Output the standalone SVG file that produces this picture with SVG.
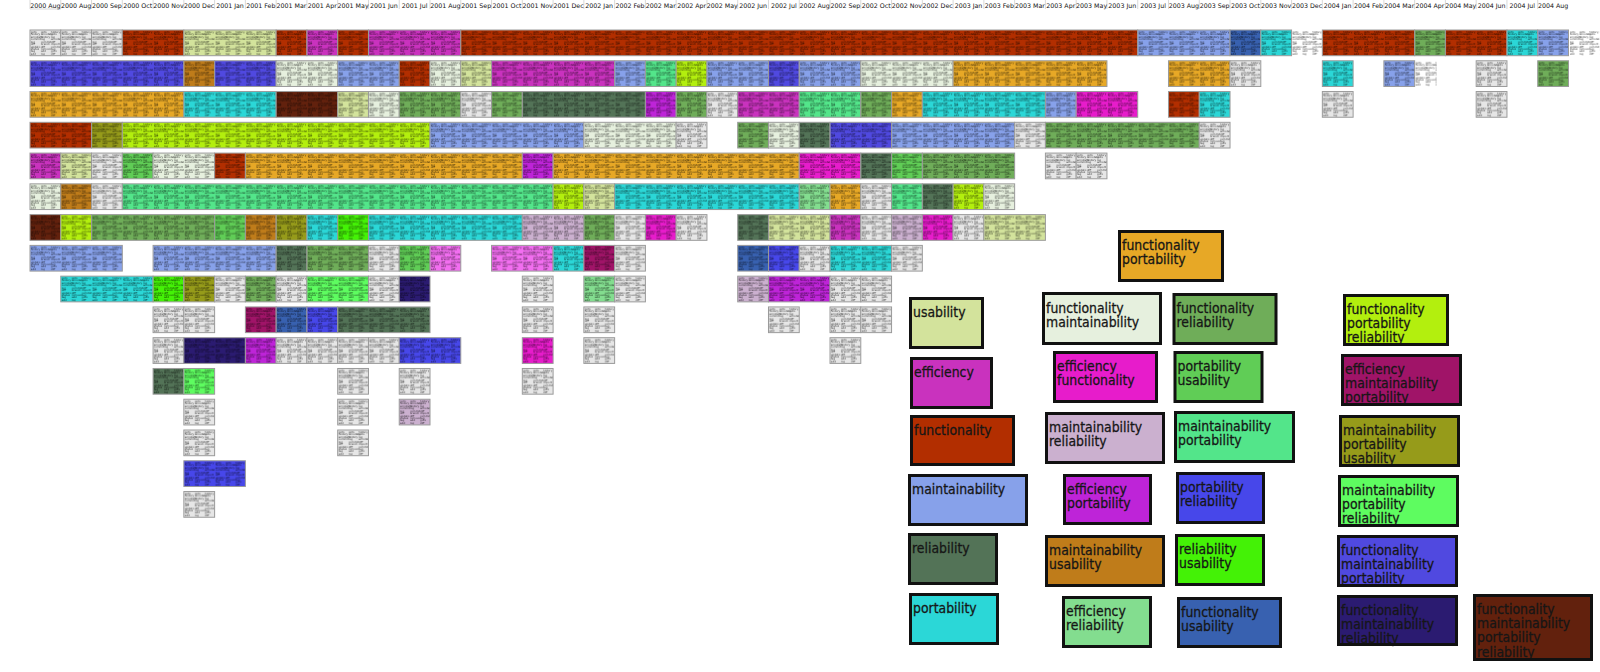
<svg xmlns="http://www.w3.org/2000/svg" xmlns:xlink="http://www.w3.org/1999/xlink" width="1600" height="672" viewBox="0 0 1600 672">
<style>
.hd{font-family:"DejaVu Sans",sans-serif;font-size:6.3px;fill:#111;text-anchor:middle}
.tk{stroke:#cfcfcf;stroke-width:0.8}
.tt{font-family:"DejaVu Sans",sans-serif;font-size:2.7px;fill:#000;fill-opacity:.8}
.o{fill:url(#tx);stroke:#9a9a9a;stroke-width:1}
.ot{fill:url(#tx);stroke:none}
.bd{fill:none;stroke:#111;stroke-width:3}
.lt{font-family:"DejaVu Sans",sans-serif;font-size:14.5px;fill:#161616;stroke:#161616;stroke-width:0.3}
.G{fill:#e6e6e6}.U{fill:#d3e39c}.E{fill:#c932be}.F{fill:#b22e00}.M{fill:#87a1ea}.R{fill:#537357}.P{fill:#2bd7d7}
.FP{fill:#e7a826}.FM{fill:#e6f0de}.EF{fill:#e71ccb}.MR{fill:#cbb0cf}.EP{fill:#be24d8}.MU{fill:#bf7c1a}.ER{fill:#83dd8f}
.FR{fill:#6fad59}.PU{fill:#60cd56}.MP{fill:#53e58a}.PR{fill:#4747ea}.RU{fill:#44f206}.FU{fill:#3861b0}
.FPR{fill:#b3ef0e}.EMP{fill:#a01468}.MPU{fill:#969b1a}.MPR{fill:#5efc60}.FMP{fill:#5049e0}.FMR{fill:#2b1b71}.FMPR{fill:#62210d}.PK{fill:#f26ef0}
</style>
<defs>
<pattern id="tx" patternUnits="userSpaceOnUse" x="30" y="0" width="30.77" height="30.77">
<text class="tt" x="0.8" y="2.7">gets<tspan x="0.8" dy="2.45">history</tspan><tspan x="0.8" dy="2.45">annotate</tspan><tspan x="0.8" dy="2.45">commit</tspan><tspan x="0.8" dy="2.45">log</tspan><tspan x="0.8" dy="2.45">diff</tspan><tspan x="0.8" dy="2.45">update</tspan><tspan x="0.8" dy="2.45">status</tspan><tspan x="0.8" dy="2.45">tag</tspan><tspan x="0.8" dy="2.45">add</tspan></text>
<text class="tt" x="10.8" y="2.7">gets<tspan x="10.8" dy="2.45">annotate</tspan><tspan x="10.8" dy="2.45">history</tspan><tspan x="10.8" dy="2.45">log</tspan><tspan x="10.8" dy="2.45">commit</tspan><tspan x="10.8" dy="2.45">branch</tspan><tspan x="10.8" dy="2.45">diff</tspan><tspan x="10.8" dy="2.45">remove</tspan><tspan x="10.8" dy="2.45">add</tspan><tspan x="10.8" dy="2.45">log</tspan></text>
<text class="tt" x="20.8" y="2.7">history<tspan x="20.8" dy="2.45">gets</tspan><tspan x="20.8" dy="2.45">log</tspan><tspan x="20.8" dy="2.45">annotate</tspan><tspan x="20.8" dy="2.45">diff</tspan><tspan x="20.8" dy="2.45">import</tspan><tspan x="20.8" dy="2.45">commit</tspan><tspan x="20.8" dy="2.45">tag</tspan><tspan x="20.8" dy="2.45">gets</tspan><tspan x="20.8" dy="2.45">diff</tspan></text>
</pattern>
</defs>
<rect width="1600" height="672" fill="#fff"/>
<g id="header">
<g class="tk">
<line x1="30" y1="0" x2="30" y2="9"/><line x1="60.77" y1="0" x2="60.77" y2="9"/><line x1="91.54" y1="0" x2="91.54" y2="9"/><line x1="122.31" y1="0" x2="122.31" y2="9"/><line x1="153.08" y1="0" x2="153.08" y2="9"/><line x1="183.85" y1="0" x2="183.85" y2="9"/><line x1="214.62" y1="0" x2="214.62" y2="9"/><line x1="245.39" y1="0" x2="245.39" y2="9"/><line x1="276.16" y1="0" x2="276.16" y2="9"/><line x1="306.93" y1="0" x2="306.93" y2="9"/><line x1="337.7" y1="0" x2="337.7" y2="9"/><line x1="368.47" y1="0" x2="368.47" y2="9"/><line x1="399.24" y1="0" x2="399.24" y2="9"/><line x1="430.01" y1="0" x2="430.01" y2="9"/><line x1="460.78" y1="0" x2="460.78" y2="9"/><line x1="491.55" y1="0" x2="491.55" y2="9"/><line x1="522.32" y1="0" x2="522.32" y2="9"/><line x1="553.09" y1="0" x2="553.09" y2="9"/><line x1="583.86" y1="0" x2="583.86" y2="9"/><line x1="614.63" y1="0" x2="614.63" y2="9"/><line x1="645.4" y1="0" x2="645.4" y2="9"/><line x1="676.17" y1="0" x2="676.17" y2="9"/><line x1="706.94" y1="0" x2="706.94" y2="9"/><line x1="737.71" y1="0" x2="737.71" y2="9"/><line x1="768.48" y1="0" x2="768.48" y2="9"/><line x1="799.25" y1="0" x2="799.25" y2="9"/><line x1="830.02" y1="0" x2="830.02" y2="9"/><line x1="860.79" y1="0" x2="860.79" y2="9"/><line x1="891.56" y1="0" x2="891.56" y2="9"/><line x1="922.33" y1="0" x2="922.33" y2="9"/><line x1="953.1" y1="0" x2="953.1" y2="9"/><line x1="983.87" y1="0" x2="983.87" y2="9"/><line x1="1014.64" y1="0" x2="1014.64" y2="9"/><line x1="1045.41" y1="0" x2="1045.41" y2="9"/><line x1="1076.18" y1="0" x2="1076.18" y2="9"/><line x1="1106.95" y1="0" x2="1106.95" y2="9"/><line x1="1137.72" y1="0" x2="1137.72" y2="9"/><line x1="1168.49" y1="0" x2="1168.49" y2="9"/><line x1="1199.26" y1="0" x2="1199.26" y2="9"/><line x1="1230.03" y1="0" x2="1230.03" y2="9"/><line x1="1260.8" y1="0" x2="1260.8" y2="9"/><line x1="1291.57" y1="0" x2="1291.57" y2="9"/><line x1="1322.34" y1="0" x2="1322.34" y2="9"/><line x1="1353.11" y1="0" x2="1353.11" y2="9"/><line x1="1383.88" y1="0" x2="1383.88" y2="9"/><line x1="1414.65" y1="0" x2="1414.65" y2="9"/><line x1="1445.42" y1="0" x2="1445.42" y2="9"/><line x1="1476.19" y1="0" x2="1476.19" y2="9"/><line x1="1506.96" y1="0" x2="1506.96" y2="9"/><line x1="1537.73" y1="0" x2="1537.73" y2="9"/>
<line x1="30" y1="9" x2="60.77" y2="9"/>
</g>
<text class="hd" x="45.4" y="7.5">2000 Aug</text><text class="hd" x="76.2" y="7.5">2000 Aug</text><text class="hd" x="106.9" y="7.5">2000 Sep</text><text class="hd" x="137.7" y="7.5">2000 Oct</text><text class="hd" x="168.5" y="7.5">2000 Nov</text><text class="hd" x="199.2" y="7.5">2000 Dec</text><text class="hd" x="230" y="7.5">2001 Jan</text><text class="hd" x="260.8" y="7.5">2001 Feb</text><text class="hd" x="291.5" y="7.5">2001 Mar</text><text class="hd" x="322.3" y="7.5">2001 Apr</text><text class="hd" x="353.1" y="7.5">2001 May</text><text class="hd" x="383.9" y="7.5">2001 Jun</text><text class="hd" x="414.6" y="7.5">2001 Jul</text><text class="hd" x="445.4" y="7.5">2001 Aug</text><text class="hd" x="476.2" y="7.5">2001 Sep</text><text class="hd" x="506.9" y="7.5">2001 Oct</text><text class="hd" x="537.7" y="7.5">2001 Nov</text><text class="hd" x="568.5" y="7.5">2001 Dec</text><text class="hd" x="599.2" y="7.5">2002 Jan</text><text class="hd" x="630" y="7.5">2002 Feb</text><text class="hd" x="660.8" y="7.5">2002 Mar</text><text class="hd" x="691.6" y="7.5">2002 Apr</text><text class="hd" x="722.3" y="7.5">2002 May</text><text class="hd" x="753.1" y="7.5">2002 Jun</text><text class="hd" x="783.9" y="7.5">2002 Jul</text><text class="hd" x="814.6" y="7.5">2002 Aug</text><text class="hd" x="845.4" y="7.5">2002 Sep</text><text class="hd" x="876.2" y="7.5">2002 Oct</text><text class="hd" x="906.9" y="7.5">2002 Nov</text><text class="hd" x="937.7" y="7.5">2002 Dec</text><text class="hd" x="968.5" y="7.5">2003 Jan</text><text class="hd" x="999.3" y="7.5">2003 Feb</text><text class="hd" x="1030" y="7.5">2003 Mar</text><text class="hd" x="1060.8" y="7.5">2003 Apr</text><text class="hd" x="1091.6" y="7.5">2003 May</text><text class="hd" x="1122.3" y="7.5">2003 Jun</text><text class="hd" x="1153.1" y="7.5">2003 Jul</text><text class="hd" x="1183.9" y="7.5">2003 Aug</text><text class="hd" x="1214.6" y="7.5">2003 Sep</text><text class="hd" x="1245.4" y="7.5">2003 Oct</text><text class="hd" x="1276.2" y="7.5">2003 Nov</text><text class="hd" x="1307" y="7.5">2003 Dec</text><text class="hd" x="1337.7" y="7.5">2004 Jan</text><text class="hd" x="1368.5" y="7.5">2004 Feb</text><text class="hd" x="1399.3" y="7.5">2004 Mar</text><text class="hd" x="1430" y="7.5">2004 Apr</text><text class="hd" x="1460.8" y="7.5">2004 May</text><text class="hd" x="1491.6" y="7.5">2004 Jun</text><text class="hd" x="1522.3" y="7.5">2004 Jul</text><text class="hd" x="1553.1" y="7.5">2004 Aug</text>
</g>
<g id="row0" transform="translate(0 30)">
<g id="r0c0"><rect class="G" x="30" width="30.77" height="25.7"/><rect class="o" x="30" width="30.77" height="25.7"/></g>
<g id="r0c1"><rect class="G" x="60.77" width="30.77" height="25.7"/><rect class="o" x="60.77" width="30.77" height="25.7"/></g>
<g id="r0c2"><rect class="G" x="91.54" width="30.77" height="25.7"/><rect class="o" x="91.54" width="30.77" height="25.7"/></g>
<g id="r0c3"><rect class="F" x="122.31" width="61.54" height="25.7"/><rect class="o" x="122.31" width="61.54" height="25.7"/></g>
<g id="r0c5"><rect class="U" x="183.85" width="92.31" height="25.7"/><rect class="o" x="183.85" width="92.31" height="25.7"/></g>
<g id="r0c8"><rect class="F" x="276.16" width="30.77" height="25.7"/><rect class="o" x="276.16" width="30.77" height="25.7"/></g>
<g id="r0c9"><rect class="E" x="306.93" width="30.77" height="25.7"/><rect class="o" x="306.93" width="30.77" height="25.7"/></g>
<g id="r0c10"><rect class="F" x="337.7" width="30.77" height="25.7"/><rect class="o" x="337.7" width="30.77" height="25.7"/></g>
<g id="r0c11"><rect class="E" x="368.47" width="92.31" height="25.7"/><rect class="o" x="368.47" width="92.31" height="25.7"/></g>
<g id="r0c14"><rect class="F" x="460.78" width="676.94" height="25.7"/><rect class="o" x="460.78" width="676.94" height="25.7"/></g>
<g id="r0c36"><rect class="M" x="1137.72" width="92.31" height="25.7"/><rect class="o" x="1137.72" width="92.31" height="25.7"/></g>
<g id="r0c39"><rect class="FU" x="1230.03" width="30.77" height="25.7"/><rect class="o" x="1230.03" width="30.77" height="25.7"/></g>
<g id="r0c40"><rect class="P" x="1260.8" width="30.77" height="25.7"/><rect class="o" x="1260.8" width="30.77" height="25.7"/></g>
<g id="r0c41"><rect class="ot" x="1291.57" width="30.77" height="25.7"/></g>
<g id="r0c42"><rect class="F" x="1322.34" width="92.31" height="25.7"/><rect class="o" x="1322.34" width="92.31" height="25.7"/></g>
<g id="r0c45"><rect class="FR" x="1414.65" width="30.77" height="25.7"/><rect class="o" x="1414.65" width="30.77" height="25.7"/></g>
<g id="r0c46"><rect class="F" x="1445.42" width="61.54" height="25.7"/><rect class="o" x="1445.42" width="61.54" height="25.7"/></g>
<g id="r0c48"><rect class="P" x="1506.96" width="30.77" height="25.7"/><rect class="o" x="1506.96" width="30.77" height="25.7"/></g>
<g id="r0c49"><rect class="M" x="1537.73" width="30.77" height="25.7"/><rect class="o" x="1537.73" width="30.77" height="25.7"/></g>
<g id="r0c50"><rect class="ot" x="1570" width="30" height="25.7"/></g>
</g>
<g id="row1" transform="translate(0 60.77)">
<g id="r1c0"><rect class="FMP" x="30" width="153.85" height="25.7"/><rect class="o" x="30" width="153.85" height="25.7"/></g>
<g id="r1c5"><rect class="MU" x="183.85" width="30.77" height="25.7"/><rect class="o" x="183.85" width="30.77" height="25.7"/></g>
<g id="r1c6"><rect class="FMP" x="214.62" width="61.54" height="25.7"/><rect class="o" x="214.62" width="61.54" height="25.7"/></g>
<g id="r1c8"><rect class="FM" x="276.16" width="61.54" height="25.7"/><rect class="o" x="276.16" width="61.54" height="25.7"/></g>
<g id="r1c10"><rect class="M" x="337.7" width="61.54" height="25.7"/><rect class="o" x="337.7" width="61.54" height="25.7"/></g>
<g id="r1c12"><rect class="F" x="399.24" width="30.77" height="25.7"/><rect class="o" x="399.24" width="30.77" height="25.7"/></g>
<g id="r1c13"><rect class="FM" x="430.01" width="30.77" height="25.7"/><rect class="o" x="430.01" width="30.77" height="25.7"/></g>
<g id="r1c14"><rect class="U" x="460.78" width="30.77" height="25.7"/><rect class="o" x="460.78" width="30.77" height="25.7"/></g>
<g id="r1c15"><rect class="E" x="491.55" width="123.08" height="25.7"/><rect class="o" x="491.55" width="123.08" height="25.7"/></g>
<g id="r1c19"><rect class="M" x="614.63" width="30.77" height="25.7"/><rect class="o" x="614.63" width="30.77" height="25.7"/></g>
<g id="r1c20"><rect class="MP" x="645.4" width="30.77" height="25.7"/><rect class="o" x="645.4" width="30.77" height="25.7"/></g>
<g id="r1c21"><rect class="FPR" x="676.17" width="30.77" height="25.7"/><rect class="o" x="676.17" width="30.77" height="25.7"/></g>
<g id="r1c22"><rect class="M" x="706.94" width="61.54" height="25.7"/><rect class="o" x="706.94" width="61.54" height="25.7"/></g>
<g id="r1c24"><rect class="FMP" x="768.48" width="30.77" height="25.7"/><rect class="o" x="768.48" width="30.77" height="25.7"/></g>
<g id="r1c25"><rect class="M" x="799.25" width="61.54" height="25.7"/><rect class="o" x="799.25" width="61.54" height="25.7"/></g>
<g id="r1c27"><rect class="FM" x="860.79" width="92.31" height="25.7"/><rect class="o" x="860.79" width="92.31" height="25.7"/></g>
<g id="r1c30"><rect class="FP" x="953.1" width="153.85" height="25.7"/><rect class="o" x="953.1" width="153.85" height="25.7"/></g>
<g id="r1c37"><rect class="FP" x="1168.49" width="61.54" height="25.7"/><rect class="o" x="1168.49" width="61.54" height="25.7"/></g>
<g id="r1c39"><rect class="G" x="1230.03" width="30.77" height="25.7"/><rect class="o" x="1230.03" width="30.77" height="25.7"/></g>
<g id="r1c42"><rect class="P" x="1322.34" width="30.77" height="25.7"/><rect class="o" x="1322.34" width="30.77" height="25.7"/></g>
<g id="r1c44"><rect class="M" x="1383.88" width="30.77" height="25.7"/><rect class="o" x="1383.88" width="30.77" height="25.7"/><rect class="ot" x="1414.65" width="22" height="25.7"/></g>
<g id="r1c47"><rect class="G" x="1476.19" width="30.77" height="25.7"/><rect class="o" x="1476.19" width="30.77" height="25.7"/></g>
<g id="r1c49"><rect class="FR" x="1537.73" width="30.77" height="25.7"/><rect class="o" x="1537.73" width="30.77" height="25.7"/></g>
</g>
<g id="row2" transform="translate(0 91.54)">
<g id="r2c0"><rect class="FP" x="30" width="153.85" height="25.7"/><rect class="o" x="30" width="153.85" height="25.7"/></g>
<g id="r2c5"><rect class="P" x="183.85" width="92.31" height="25.7"/><rect class="o" x="183.85" width="92.31" height="25.7"/></g>
<g id="r2c8"><rect class="FMPR" x="276.16" width="61.54" height="25.7"/><rect class="o" x="276.16" width="61.54" height="25.7"/></g>
<g id="r2c10"><rect class="U" x="337.7" width="30.77" height="25.7"/><rect class="o" x="337.7" width="30.77" height="25.7"/></g>
<g id="r2c11"><rect class="FM" x="368.47" width="30.77" height="25.7"/><rect class="o" x="368.47" width="30.77" height="25.7"/></g>
<g id="r2c12"><rect class="FR" x="399.24" width="61.54" height="25.7"/><rect class="o" x="399.24" width="61.54" height="25.7"/></g>
<g id="r2c14"><rect class="G" x="460.78" width="30.77" height="25.7"/><rect class="o" x="460.78" width="30.77" height="25.7"/></g>
<g id="r2c15"><rect class="FR" x="491.55" width="30.77" height="25.7"/><rect class="o" x="491.55" width="30.77" height="25.7"/></g>
<g id="r2c16"><rect class="R" x="522.32" width="123.08" height="25.7"/><rect class="o" x="522.32" width="123.08" height="25.7"/></g>
<g id="r2c20"><rect class="EP" x="645.4" width="30.77" height="25.7"/><rect class="o" x="645.4" width="30.77" height="25.7"/></g>
<g id="r2c21"><rect class="FR" x="676.17" width="30.77" height="25.7"/><rect class="o" x="676.17" width="30.77" height="25.7"/></g>
<g id="r2c22"><rect class="G" x="706.94" width="30.77" height="25.7"/><rect class="o" x="706.94" width="30.77" height="25.7"/></g>
<g id="r2c23"><rect class="E" x="737.71" width="61.54" height="25.7"/><rect class="o" x="737.71" width="61.54" height="25.7"/></g>
<g id="r2c25"><rect class="MP" x="799.25" width="61.54" height="25.7"/><rect class="o" x="799.25" width="61.54" height="25.7"/></g>
<g id="r2c27"><rect class="FR" x="860.79" width="30.77" height="25.7"/><rect class="o" x="860.79" width="30.77" height="25.7"/></g>
<g id="r2c28"><rect class="FP" x="891.56" width="30.77" height="25.7"/><rect class="o" x="891.56" width="30.77" height="25.7"/></g>
<g id="r2c29"><rect class="P" x="922.33" width="123.08" height="25.7"/><rect class="o" x="922.33" width="123.08" height="25.7"/></g>
<g id="r2c33"><rect class="M" x="1045.41" width="30.77" height="25.7"/><rect class="o" x="1045.41" width="30.77" height="25.7"/></g>
<g id="r2c34"><rect class="EF" x="1076.18" width="61.54" height="25.7"/><rect class="o" x="1076.18" width="61.54" height="25.7"/></g>
<g id="r2c37"><rect class="F" x="1168.49" width="30.77" height="25.7"/><rect class="o" x="1168.49" width="30.77" height="25.7"/></g>
<g id="r2c38"><rect class="P" x="1199.26" width="30.77" height="25.7"/><rect class="o" x="1199.26" width="30.77" height="25.7"/></g>
<g id="r2c42"><rect class="G" x="1322.34" width="30.77" height="25.7"/><rect class="o" x="1322.34" width="30.77" height="25.7"/></g>
<g id="r2c47"><rect class="G" x="1476.19" width="30.77" height="25.7"/><rect class="o" x="1476.19" width="30.77" height="25.7"/></g>
</g>
<g id="row3" transform="translate(0 122.31)">
<g id="r3c0"><rect class="F" x="30" width="61.54" height="25.7"/><rect class="o" x="30" width="61.54" height="25.7"/></g>
<g id="r3c2"><rect class="MPU" x="91.54" width="30.77" height="25.7"/><rect class="o" x="91.54" width="30.77" height="25.7"/></g>
<g id="r3c3"><rect class="FPR" x="122.31" width="307.7" height="25.7"/><rect class="o" x="122.31" width="307.7" height="25.7"/></g>
<g id="r3c13"><rect class="M" x="430.01" width="153.85" height="25.7"/><rect class="o" x="430.01" width="153.85" height="25.7"/></g>
<g id="r3c18"><rect class="FM" x="583.86" width="92.31" height="25.7"/><rect class="o" x="583.86" width="92.31" height="25.7"/></g>
<g id="r3c21"><rect class="G" x="676.17" width="30.77" height="25.7"/><rect class="o" x="676.17" width="30.77" height="25.7"/></g>
<g id="r3c23"><rect class="FR" x="737.71" width="30.77" height="25.7"/><rect class="o" x="737.71" width="30.77" height="25.7"/></g>
<g id="r3c24"><rect class="FM" x="768.48" width="30.77" height="25.7"/><rect class="o" x="768.48" width="30.77" height="25.7"/></g>
<g id="r3c25"><rect class="R" x="799.25" width="30.77" height="25.7"/><rect class="o" x="799.25" width="30.77" height="25.7"/></g>
<g id="r3c26"><rect class="FMP" x="830.02" width="61.54" height="25.7"/><rect class="o" x="830.02" width="61.54" height="25.7"/></g>
<g id="r3c28"><rect class="M" x="891.56" width="123.08" height="25.7"/><rect class="o" x="891.56" width="123.08" height="25.7"/></g>
<g id="r3c32"><rect class="G" x="1014.64" width="30.77" height="25.7"/><rect class="o" x="1014.64" width="30.77" height="25.7"/></g>
<g id="r3c33"><rect class="FR" x="1045.41" width="153.85" height="25.7"/><rect class="o" x="1045.41" width="153.85" height="25.7"/></g>
<g id="r3c38"><rect class="G" x="1199.26" width="30.77" height="25.7"/><rect class="o" x="1199.26" width="30.77" height="25.7"/></g>
</g>
<g id="row4" transform="translate(0 153.08)">
<g id="r4c0"><rect class="E" x="30" width="30.77" height="25.7"/><rect class="o" x="30" width="30.77" height="25.7"/></g>
<g id="r4c1"><rect class="U" x="60.77" width="30.77" height="25.7"/><rect class="o" x="60.77" width="30.77" height="25.7"/></g>
<g id="r4c2"><rect class="G" x="91.54" width="30.77" height="25.7"/><rect class="o" x="91.54" width="30.77" height="25.7"/></g>
<g id="r4c3"><rect class="PU" x="122.31" width="30.77" height="25.7"/><rect class="o" x="122.31" width="30.77" height="25.7"/></g>
<g id="r4c4"><rect class="FM" x="153.08" width="61.54" height="25.7"/><rect class="o" x="153.08" width="61.54" height="25.7"/></g>
<g id="r4c6"><rect class="F" x="214.62" width="30.77" height="25.7"/><rect class="o" x="214.62" width="30.77" height="25.7"/></g>
<g id="r4c7"><rect class="FP" x="245.39" width="276.93" height="25.7"/><rect class="o" x="245.39" width="276.93" height="25.7"/></g>
<g id="r4c16"><rect class="EP" x="522.32" width="30.77" height="25.7"/><rect class="o" x="522.32" width="30.77" height="25.7"/></g>
<g id="r4c17"><rect class="FP" x="553.09" width="246.16" height="25.7"/><rect class="o" x="553.09" width="246.16" height="25.7"/></g>
<g id="r4c25"><rect class="EF" x="799.25" width="61.54" height="25.7"/><rect class="o" x="799.25" width="61.54" height="25.7"/></g>
<g id="r4c27"><rect class="R" x="860.79" width="30.77" height="25.7"/><rect class="o" x="860.79" width="30.77" height="25.7"/></g>
<g id="r4c28"><rect class="PU" x="891.56" width="30.77" height="25.7"/><rect class="o" x="891.56" width="30.77" height="25.7"/></g>
<g id="r4c29"><rect class="FR" x="922.33" width="92.31" height="25.7"/><rect class="o" x="922.33" width="92.31" height="25.7"/></g>
<g id="r4c33"><rect class="G" x="1045.41" width="30.77" height="25.7"/><rect class="o" x="1045.41" width="30.77" height="25.7"/></g>
<g id="r4c34"><rect class="G" x="1076.18" width="30.77" height="25.7"/><rect class="o" x="1076.18" width="30.77" height="25.7"/></g>
</g>
<g id="row5" transform="translate(0 183.85)">
<g id="r5c0"><rect class="FM" x="30" width="30.77" height="25.7"/><rect class="o" x="30" width="30.77" height="25.7"/></g>
<g id="r5c1"><rect class="MU" x="60.77" width="30.77" height="25.7"/><rect class="o" x="60.77" width="30.77" height="25.7"/></g>
<g id="r5c2"><rect class="G" x="91.54" width="30.77" height="25.7"/><rect class="o" x="91.54" width="30.77" height="25.7"/></g>
<g id="r5c3"><rect class="MP" x="122.31" width="430.78" height="25.7"/><rect class="o" x="122.31" width="430.78" height="25.7"/></g>
<g id="r5c17"><rect class="FPR" x="553.09" width="30.77" height="25.7"/><rect class="o" x="553.09" width="30.77" height="25.7"/></g>
<g id="r5c18"><rect class="U" x="583.86" width="30.77" height="25.7"/><rect class="o" x="583.86" width="30.77" height="25.7"/></g>
<g id="r5c19"><rect class="P" x="614.63" width="184.62" height="25.7"/><rect class="o" x="614.63" width="184.62" height="25.7"/></g>
<g id="r5c25"><rect class="ER" x="799.25" width="30.77" height="25.7"/><rect class="o" x="799.25" width="30.77" height="25.7"/></g>
<g id="r5c26"><rect class="FP" x="830.02" width="30.77" height="25.7"/><rect class="o" x="830.02" width="30.77" height="25.7"/></g>
<g id="r5c27"><rect class="G" x="860.79" width="30.77" height="25.7"/><rect class="o" x="860.79" width="30.77" height="25.7"/></g>
<g id="r5c28"><rect class="MP" x="891.56" width="30.77" height="25.7"/><rect class="o" x="891.56" width="30.77" height="25.7"/></g>
<g id="r5c29"><rect class="R" x="922.33" width="30.77" height="25.7"/><rect class="o" x="922.33" width="30.77" height="25.7"/></g>
<g id="r5c30"><rect class="FPR" x="953.1" width="30.77" height="25.7"/><rect class="o" x="953.1" width="30.77" height="25.7"/></g>
<g id="r5c31"><rect class="FM" x="983.87" width="30.77" height="25.7"/><rect class="o" x="983.87" width="30.77" height="25.7"/></g>
</g>
<g id="row6" transform="translate(0 214.62)">
<g id="r6c0"><rect class="FMPR" x="30" width="30.77" height="25.7"/><rect class="o" x="30" width="30.77" height="25.7"/></g>
<g id="r6c1"><rect class="FPR" x="60.77" width="30.77" height="25.7"/><rect class="o" x="60.77" width="30.77" height="25.7"/></g>
<g id="r6c2"><rect class="FR" x="91.54" width="123.08" height="25.7"/><rect class="o" x="91.54" width="123.08" height="25.7"/></g>
<g id="r6c6"><rect class="PU" x="214.62" width="30.77" height="25.7"/><rect class="o" x="214.62" width="30.77" height="25.7"/></g>
<g id="r6c7"><rect class="MU" x="245.39" width="30.77" height="25.7"/><rect class="o" x="245.39" width="30.77" height="25.7"/></g>
<g id="r6c8"><rect class="MPU" x="276.16" width="30.77" height="25.7"/><rect class="o" x="276.16" width="30.77" height="25.7"/></g>
<g id="r6c9"><rect class="P" x="306.93" width="30.77" height="25.7"/><rect class="o" x="306.93" width="30.77" height="25.7"/></g>
<g id="r6c10"><rect class="RU" x="337.7" width="30.77" height="25.7"/><rect class="o" x="337.7" width="30.77" height="25.7"/></g>
<g id="r6c11"><rect class="P" x="368.47" width="153.85" height="25.7"/><rect class="o" x="368.47" width="153.85" height="25.7"/></g>
<g id="r6c16"><rect class="MR" x="522.32" width="61.54" height="25.7"/><rect class="o" x="522.32" width="61.54" height="25.7"/></g>
<g id="r6c18"><rect class="FR" x="583.86" width="30.77" height="25.7"/><rect class="o" x="583.86" width="30.77" height="25.7"/></g>
<g id="r6c19"><rect class="G" x="614.63" width="30.77" height="25.7"/><rect class="o" x="614.63" width="30.77" height="25.7"/></g>
<g id="r6c20"><rect class="EF" x="645.4" width="30.77" height="25.7"/><rect class="o" x="645.4" width="30.77" height="25.7"/></g>
<g id="r6c21"><rect class="G" x="676.17" width="30.77" height="25.7"/><rect class="o" x="676.17" width="30.77" height="25.7"/></g>
<g id="r6c23"><rect class="R" x="737.71" width="30.77" height="25.7"/><rect class="o" x="737.71" width="30.77" height="25.7"/></g>
<g id="r6c24"><rect class="U" x="768.48" width="61.54" height="25.7"/><rect class="o" x="768.48" width="61.54" height="25.7"/></g>
<g id="r6c26"><rect class="E" x="830.02" width="30.77" height="25.7"/><rect class="o" x="830.02" width="30.77" height="25.7"/></g>
<g id="r6c27"><rect class="G" x="860.79" width="30.77" height="25.7"/><rect class="o" x="860.79" width="30.77" height="25.7"/></g>
<g id="r6c28"><rect class="MR" x="891.56" width="30.77" height="25.7"/><rect class="o" x="891.56" width="30.77" height="25.7"/></g>
<g id="r6c29"><rect class="EF" x="922.33" width="30.77" height="25.7"/><rect class="o" x="922.33" width="30.77" height="25.7"/></g>
<g id="r6c30"><rect class="G" x="953.1" width="30.77" height="25.7"/><rect class="o" x="953.1" width="30.77" height="25.7"/></g>
<g id="r6c31"><rect class="U" x="983.87" width="61.54" height="25.7"/><rect class="o" x="983.87" width="61.54" height="25.7"/></g>
</g>
<g id="row7" transform="translate(0 245.39)">
<g id="r7c0"><rect class="M" x="30" width="92.31" height="25.7"/><rect class="o" x="30" width="92.31" height="25.7"/></g>
<g id="r7c4"><rect class="M" x="153.08" width="123.08" height="25.7"/><rect class="o" x="153.08" width="123.08" height="25.7"/></g>
<g id="r7c8"><rect class="R" x="276.16" width="30.77" height="25.7"/><rect class="o" x="276.16" width="30.77" height="25.7"/></g>
<g id="r7c9"><rect class="FR" x="306.93" width="61.54" height="25.7"/><rect class="o" x="306.93" width="61.54" height="25.7"/></g>
<g id="r7c11"><rect class="G" x="368.47" width="30.77" height="25.7"/><rect class="o" x="368.47" width="30.77" height="25.7"/></g>
<g id="r7c12"><rect class="PU" x="399.24" width="30.77" height="25.7"/><rect class="o" x="399.24" width="30.77" height="25.7"/></g>
<g id="r7c13"><rect class="PK" x="430.01" width="30.77" height="25.7"/><rect class="o" x="430.01" width="30.77" height="25.7"/></g>
<g id="r7c15"><rect class="PK" x="491.55" width="61.54" height="25.7"/><rect class="o" x="491.55" width="61.54" height="25.7"/></g>
<g id="r7c17"><rect class="P" x="553.09" width="30.77" height="25.7"/><rect class="o" x="553.09" width="30.77" height="25.7"/></g>
<g id="r7c18"><rect class="EMP" x="583.86" width="30.77" height="25.7"/><rect class="o" x="583.86" width="30.77" height="25.7"/></g>
<g id="r7c19"><rect class="G" x="614.63" width="30.77" height="25.7"/><rect class="o" x="614.63" width="30.77" height="25.7"/></g>
<g id="r7c23"><rect class="FU" x="737.71" width="30.77" height="25.7"/><rect class="o" x="737.71" width="30.77" height="25.7"/></g>
<g id="r7c24"><rect class="PR" x="768.48" width="30.77" height="25.7"/><rect class="o" x="768.48" width="30.77" height="25.7"/></g>
<g id="r7c25"><rect class="G" x="799.25" width="30.77" height="25.7"/><rect class="o" x="799.25" width="30.77" height="25.7"/></g>
<g id="r7c26"><rect class="P" x="830.02" width="61.54" height="25.7"/><rect class="o" x="830.02" width="61.54" height="25.7"/></g>
<g id="r7c28"><rect class="G" x="891.56" width="30.77" height="25.7"/><rect class="o" x="891.56" width="30.77" height="25.7"/></g>
</g>
<g id="row8" transform="translate(0 276.16)">
<g id="r8c1"><rect class="P" x="60.77" width="92.31" height="25.7"/><rect class="o" x="60.77" width="92.31" height="25.7"/></g>
<g id="r8c4"><rect class="RU" x="153.08" width="30.77" height="25.7"/><rect class="o" x="153.08" width="30.77" height="25.7"/></g>
<g id="r8c5"><rect class="MPU" x="183.85" width="30.77" height="25.7"/><rect class="o" x="183.85" width="30.77" height="25.7"/></g>
<g id="r8c6"><rect class="G" x="214.62" width="30.77" height="25.7"/><rect class="o" x="214.62" width="30.77" height="25.7"/></g>
<g id="r8c7"><rect class="FR" x="245.39" width="30.77" height="25.7"/><rect class="o" x="245.39" width="30.77" height="25.7"/></g>
<g id="r8c8"><rect class="G" x="276.16" width="30.77" height="25.7"/><rect class="o" x="276.16" width="30.77" height="25.7"/></g>
<g id="r8c9"><rect class="MPR" x="306.93" width="61.54" height="25.7"/><rect class="o" x="306.93" width="61.54" height="25.7"/></g>
<g id="r8c11"><rect class="G" x="368.47" width="30.77" height="25.7"/><rect class="o" x="368.47" width="30.77" height="25.7"/></g>
<g id="r8c12"><rect class="FMR" x="399.24" width="30.77" height="25.7"/><rect class="o" x="399.24" width="30.77" height="25.7"/></g>
<g id="r8c16"><rect class="G" x="522.32" width="30.77" height="25.7"/><rect class="o" x="522.32" width="30.77" height="25.7"/></g>
<g id="r8c18"><rect class="ER" x="583.86" width="30.77" height="25.7"/><rect class="o" x="583.86" width="30.77" height="25.7"/></g>
<g id="r8c19"><rect class="G" x="614.63" width="30.77" height="25.7"/><rect class="o" x="614.63" width="30.77" height="25.7"/></g>
<g id="r8c23"><rect class="MR" x="737.71" width="30.77" height="25.7"/><rect class="o" x="737.71" width="30.77" height="25.7"/></g>
<g id="r8c24"><rect class="EP" x="768.48" width="61.54" height="25.7"/><rect class="o" x="768.48" width="61.54" height="25.7"/></g>
<g id="r8c26"><rect class="G" x="830.02" width="30.77" height="25.7"/><rect class="o" x="830.02" width="30.77" height="25.7"/></g>
<g id="r8c27"><rect class="G" x="860.79" width="30.77" height="25.7"/><rect class="o" x="860.79" width="30.77" height="25.7"/></g>
</g>
<g id="row9" transform="translate(0 306.93)">
<g id="r9c4"><rect class="G" x="153.08" width="30.77" height="25.7"/><rect class="o" x="153.08" width="30.77" height="25.7"/></g>
<g id="r9c5"><rect class="G" x="183.85" width="30.77" height="25.7"/><rect class="o" x="183.85" width="30.77" height="25.7"/></g>
<g id="r9c7"><rect class="EMP" x="245.39" width="30.77" height="25.7"/><rect class="o" x="245.39" width="30.77" height="25.7"/></g>
<g id="r9c8"><rect class="FU" x="276.16" width="30.77" height="25.7"/><rect class="o" x="276.16" width="30.77" height="25.7"/></g>
<g id="r9c9"><rect class="PR" x="306.93" width="30.77" height="25.7"/><rect class="o" x="306.93" width="30.77" height="25.7"/></g>
<g id="r9c10"><rect class="R" x="337.7" width="92.31" height="25.7"/><rect class="o" x="337.7" width="92.31" height="25.7"/></g>
<g id="r9c16"><rect class="G" x="522.32" width="30.77" height="25.7"/><rect class="o" x="522.32" width="30.77" height="25.7"/></g>
<g id="r9c18"><rect class="G" x="583.86" width="30.77" height="25.7"/><rect class="o" x="583.86" width="30.77" height="25.7"/></g>
<g id="r9c24"><rect class="G" x="768.48" width="30.77" height="25.7"/><rect class="o" x="768.48" width="30.77" height="25.7"/></g>
<g id="r9c26"><rect class="G" x="830.02" width="30.77" height="25.7"/><rect class="o" x="830.02" width="30.77" height="25.7"/></g>
<g id="r9c27"><rect class="G" x="860.79" width="30.77" height="25.7"/><rect class="o" x="860.79" width="30.77" height="25.7"/></g>
</g>
<g id="row10" transform="translate(0 337.7)">
<g id="r10c4"><rect class="G" x="153.08" width="30.77" height="25.7"/><rect class="o" x="153.08" width="30.77" height="25.7"/></g>
<g id="r10c5"><rect class="FMR" x="183.85" width="61.54" height="25.7"/><rect class="o" x="183.85" width="61.54" height="25.7"/></g>
<g id="r10c7"><rect class="EP" x="245.39" width="30.77" height="25.7"/><rect class="o" x="245.39" width="30.77" height="25.7"/></g>
<g id="r10c8"><rect class="G" x="276.16" width="30.77" height="25.7"/><rect class="o" x="276.16" width="30.77" height="25.7"/></g>
<g id="r10c9"><rect class="G" x="306.93" width="30.77" height="25.7"/><rect class="o" x="306.93" width="30.77" height="25.7"/></g>
<g id="r10c10"><rect class="G" x="337.7" width="30.77" height="25.7"/><rect class="o" x="337.7" width="30.77" height="25.7"/></g>
<g id="r10c11"><rect class="G" x="368.47" width="30.77" height="25.7"/><rect class="o" x="368.47" width="30.77" height="25.7"/></g>
<g id="r10c12"><rect class="PR" x="399.24" width="61.54" height="25.7"/><rect class="o" x="399.24" width="61.54" height="25.7"/></g>
<g id="r10c16"><rect class="EF" x="522.32" width="30.77" height="25.7"/><rect class="o" x="522.32" width="30.77" height="25.7"/></g>
<g id="r10c18"><rect class="G" x="583.86" width="30.77" height="25.7"/><rect class="o" x="583.86" width="30.77" height="25.7"/></g>
<g id="r10c26"><rect class="G" x="830.02" width="30.77" height="25.7"/><rect class="o" x="830.02" width="30.77" height="25.7"/></g>
</g>
<g id="row11" transform="translate(0 368.47)">
<g id="r11c4"><rect class="R" x="153.08" width="30.77" height="25.7"/><rect class="o" x="153.08" width="30.77" height="25.7"/></g>
<g id="r11c5"><rect class="MPR" x="183.85" width="30.77" height="25.7"/><rect class="o" x="183.85" width="30.77" height="25.7"/></g>
<g id="r11c10"><rect class="G" x="337.7" width="30.77" height="25.7"/><rect class="o" x="337.7" width="30.77" height="25.7"/></g>
<g id="r11c12"><rect class="G" x="399.24" width="30.77" height="25.7"/><rect class="o" x="399.24" width="30.77" height="25.7"/></g>
<g id="r11c16"><rect class="G" x="522.32" width="30.77" height="25.7"/><rect class="o" x="522.32" width="30.77" height="25.7"/></g>
</g>
<g id="row12" transform="translate(0 399.24)">
<g id="r12c5"><rect class="G" x="183.85" width="30.77" height="25.7"/><rect class="o" x="183.85" width="30.77" height="25.7"/></g>
<g id="r12c10"><rect class="G" x="337.7" width="30.77" height="25.7"/><rect class="o" x="337.7" width="30.77" height="25.7"/></g>
<g id="r12c12"><rect class="MR" x="399.24" width="30.77" height="25.7"/><rect class="o" x="399.24" width="30.77" height="25.7"/></g>
</g>
<g id="row13" transform="translate(0 430.01)">
<g id="r13c5"><rect class="G" x="183.85" width="30.77" height="25.7"/><rect class="o" x="183.85" width="30.77" height="25.7"/></g>
<g id="r13c10"><rect class="G" x="337.7" width="30.77" height="25.7"/><rect class="o" x="337.7" width="30.77" height="25.7"/></g>
</g>
<g id="row14" transform="translate(0 460.78)">
<g id="r14c5"><rect class="PR" x="183.85" width="61.54" height="25.7"/><rect class="o" x="183.85" width="61.54" height="25.7"/></g>
</g>
<g id="row15" transform="translate(0 491.55)">
<g id="r15c5"><rect class="G" x="183.85" width="30.77" height="25.7"/><rect class="o" x="183.85" width="30.77" height="25.7"/></g>
</g>
<g id="connectors"/>
<g id="legend">
<g id="lg-fp"><rect class="FP" x="1119.5" y="231.5" width="103" height="49"/><text class="lt" transform="translate(1122 249.5) scale(.86 1)"><tspan x="0" y="0">functionality</tspan><tspan x="0" y="14.5">portability</tspan></text><rect class="bd" x="1119.5" y="231.5" width="103" height="49"/></g>
<g id="lg-u"><rect class="U" x="910.5" y="298.5" width="72" height="49"/><text class="lt" transform="translate(913 316.5) scale(.86 1)"><tspan x="0" y="0">usability</tspan></text><rect class="bd" x="910.5" y="298.5" width="72" height="49"/></g>
<g id="lg-e"><rect class="E" x="911.5" y="358.5" width="80" height="49"/><text class="lt" transform="translate(914 376.5) scale(.86 1)"><tspan x="0" y="0">efficiency</tspan></text><rect class="bd" x="911.5" y="358.5" width="80" height="49"/></g>
<g id="lg-f"><rect class="F" x="911.5" y="416.5" width="102" height="48"/><text class="lt" transform="translate(914 434.5) scale(.86 1)"><tspan x="0" y="0">functionality</tspan></text><rect class="bd" x="911.5" y="416.5" width="102" height="48"/></g>
<g id="lg-m"><rect class="M" x="909.5" y="475.5" width="117" height="49"/><text class="lt" transform="translate(912 493.5) scale(.86 1)"><tspan x="0" y="0">maintainability</tspan></text><rect class="bd" x="909.5" y="475.5" width="117" height="49"/></g>
<g id="lg-r"><rect class="R" x="909.5" y="534.5" width="87" height="49"/><text class="lt" transform="translate(912 552.5) scale(.86 1)"><tspan x="0" y="0">reliability</tspan></text><rect class="bd" x="909.5" y="534.5" width="87" height="49"/></g>
<g id="lg-p"><rect class="P" x="910.5" y="594.5" width="87" height="49"/><text class="lt" transform="translate(913 612.5) scale(.86 1)"><tspan x="0" y="0">portability</tspan></text><rect class="bd" x="910.5" y="594.5" width="87" height="49"/></g>
<g id="lg-fm"><rect class="FM" x="1043.5" y="293.5" width="117" height="50"/><text class="lt" transform="translate(1046 312.5) scale(.86 1)"><tspan x="0" y="0">functionality</tspan><tspan x="0" y="14.5">maintainability</tspan></text><rect class="bd" x="1043.5" y="293.5" width="117" height="50"/></g>
<g id="lg-ef"><rect class="EF" x="1054.5" y="352.5" width="102" height="49"/><text class="lt" transform="translate(1057 370.5) scale(.86 1)"><tspan x="0" y="0">efficiency</tspan><tspan x="0" y="14.5">functionality</tspan></text><rect class="bd" x="1054.5" y="352.5" width="102" height="49"/></g>
<g id="lg-mr"><rect class="MR" x="1046.5" y="413.5" width="117" height="49"/><text class="lt" transform="translate(1049 431.5) scale(.86 1)"><tspan x="0" y="0">maintainability</tspan><tspan x="0" y="14.5">reliability</tspan></text><rect class="bd" x="1046.5" y="413.5" width="117" height="49"/></g>
<g id="lg-ep"><rect class="EP" x="1064.5" y="475.5" width="86" height="48"/><text class="lt" transform="translate(1067 493.5) scale(.86 1)"><tspan x="0" y="0">efficiency</tspan><tspan x="0" y="14.5">portability</tspan></text><rect class="bd" x="1064.5" y="475.5" width="86" height="48"/></g>
<g id="lg-mu"><rect class="MU" x="1046.5" y="536.5" width="117" height="49"/><text class="lt" transform="translate(1049 554.5) scale(.86 1)"><tspan x="0" y="0">maintainability</tspan><tspan x="0" y="14.5">usability</tspan></text><rect class="bd" x="1046.5" y="536.5" width="117" height="49"/></g>
<g id="lg-er"><rect class="ER" x="1063.5" y="597.5" width="87" height="49"/><text class="lt" transform="translate(1066 615.5) scale(.86 1)"><tspan x="0" y="0">efficiency</tspan><tspan x="0" y="14.5">reliability</tspan></text><rect class="bd" x="1063.5" y="597.5" width="87" height="49"/></g>
<g id="lg-fr"><rect class="FR" x="1174" y="294.5" width="102" height="49"/><text class="lt" transform="translate(1176.5 312.5) scale(.86 1)"><tspan x="0" y="0">functionality</tspan><tspan x="0" y="14.5">reliability</tspan></text><rect class="bd" x="1174" y="294.5" width="102" height="49"/></g>
<g id="lg-pu"><rect class="PU" x="1175" y="352.5" width="87" height="49"/><text class="lt" transform="translate(1177.5 370.5) scale(.86 1)"><tspan x="0" y="0">portability</tspan><tspan x="0" y="14.5">usability</tspan></text><rect class="bd" x="1175" y="352.5" width="87" height="49"/></g>
<g id="lg-mp"><rect class="MP" x="1175.5" y="412.5" width="118" height="49"/><text class="lt" transform="translate(1178 430.5) scale(.86 1)"><tspan x="0" y="0">maintainability</tspan><tspan x="0" y="14.5">portability</tspan></text><rect class="bd" x="1175.5" y="412.5" width="118" height="49"/></g>
<g id="lg-pr"><rect class="PR" x="1177.5" y="473.5" width="86" height="49"/><text class="lt" transform="translate(1180 491.5) scale(.86 1)"><tspan x="0" y="0">portability</tspan><tspan x="0" y="14.5">reliability</tspan></text><rect class="bd" x="1177.5" y="473.5" width="86" height="49"/></g>
<g id="lg-ru"><rect class="RU" x="1176.5" y="535.5" width="87" height="49"/><text class="lt" transform="translate(1179 553.5) scale(.86 1)"><tspan x="0" y="0">reliability</tspan><tspan x="0" y="14.5">usability</tspan></text><rect class="bd" x="1176.5" y="535.5" width="87" height="49"/></g>
<g id="lg-fu"><rect class="FU" x="1178.5" y="598.5" width="102" height="48"/><text class="lt" transform="translate(1181 616.5) scale(.86 1)"><tspan x="0" y="0">functionality</tspan><tspan x="0" y="14.5">usability</tspan></text><rect class="bd" x="1178.5" y="598.5" width="102" height="48"/></g>
<g id="lg-fpr"><rect class="FPR" x="1344.5" y="295.5" width="103" height="49"/><text class="lt" transform="translate(1347 313.5) scale(.86 1)"><tspan x="0" y="0">functionality</tspan><tspan x="0" y="14.5">portability</tspan><tspan x="0" y="29">reliability</tspan></text><rect class="bd" x="1344.5" y="295.5" width="103" height="49"/></g>
<g id="lg-emp"><rect class="EMP" x="1342.5" y="355.5" width="118" height="49"/><text class="lt" transform="translate(1345 373.5) scale(.86 1)"><tspan x="0" y="0">efficiency</tspan><tspan x="0" y="14.5">maintainability</tspan><tspan x="0" y="29">portability</tspan></text><rect class="bd" x="1342.5" y="355.5" width="118" height="49"/></g>
<g id="lg-mpu"><rect class="MPU" x="1340.5" y="416.5" width="118" height="49"/><text class="lt" transform="translate(1343 434.5) scale(.86 1)"><tspan x="0" y="0">maintainability</tspan><tspan x="0" y="14.5">portability</tspan><tspan x="0" y="29">usability</tspan></text><rect class="bd" x="1340.5" y="416.5" width="118" height="49"/></g>
<g id="lg-mpr"><rect class="MPR" x="1339.5" y="476.5" width="118" height="49"/><text class="lt" transform="translate(1342 494.5) scale(.86 1)"><tspan x="0" y="0">maintainability</tspan><tspan x="0" y="14.5">portability</tspan><tspan x="0" y="29">reliability</tspan></text><rect class="bd" x="1339.5" y="476.5" width="118" height="49"/></g>
<g id="lg-fmp"><rect class="FMP" x="1338.5" y="536.5" width="118" height="49"/><text class="lt" transform="translate(1341 554.5) scale(.86 1)"><tspan x="0" y="0">functionality</tspan><tspan x="0" y="14.5">maintainability</tspan><tspan x="0" y="29">portability</tspan></text><rect class="bd" x="1338.5" y="536.5" width="118" height="49"/></g>
<g id="lg-fmr"><rect class="FMR" x="1338.5" y="596.5" width="118" height="48"/><text class="lt" transform="translate(1341 614.5) scale(.86 1)"><tspan x="0" y="0">functionality</tspan><tspan x="0" y="14.5">maintainability</tspan><tspan x="0" y="29">reliability</tspan></text><rect class="bd" x="1338.5" y="596.5" width="118" height="48"/></g>
<g id="lg-fmpr"><rect class="FMPR" x="1474.5" y="595.5" width="117" height="64"/><text class="lt" transform="translate(1477 613.5) scale(.86 1)"><tspan x="0" y="0">functionality</tspan><tspan x="0" y="14.5">maintainability</tspan><tspan x="0" y="29">portability</tspan><tspan x="0" y="43.5">reliability</tspan></text><rect class="bd" x="1474.5" y="595.5" width="117" height="64"/></g>
</g>
</svg>
